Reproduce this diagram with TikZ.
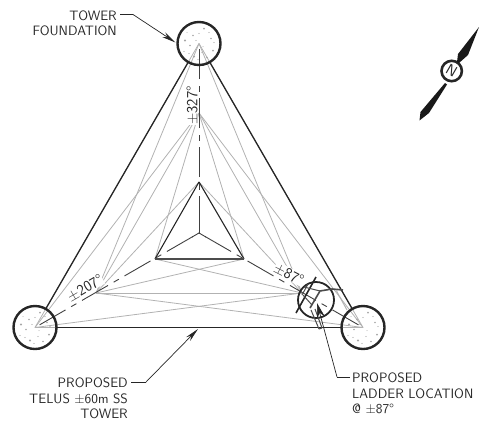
\documentclass[tikz,border=0pt]{standalone}
\usepackage{fontspec}
\usepackage{tikz}
\usetikzlibrary{calc,arrows.meta}

\tikzset{
    grayline/.style={draw=black!30, line width=0.8pt},
    darkline/.style={draw=black!85, line width=1.3pt},
    centerline/.style={draw=black!75, line width=0.9pt, dash pattern=on 30pt off 6.5pt on 6pt off 6.5pt, dash phase=42pt},
    foundation/.style={draw=black!85, line width=2.4pt},
    leader/.style={draw=black!85, line width=0.7pt},
    leaderarrow/.style={leader, -{Stealth[length=14pt,width=5.5pt]}},
    cadtext/.style={font=\fontsize{13.6}{15.5}\selectfont\sffamily, inner sep=0pt, text=black!85},
    masktext/.style={cadtext, font=\fontsize{15.5}{16}\selectfont\sffamily, fill=white, inner sep=0.5pt},
}

\begin{document}
\begin{tikzpicture}[x=1pt,y=-1pt]
    \useasboundingbox (0,0) rectangle (484,421);

    % outer foundations
    \coordinate (topfound) at (199,43.5);
    \coordinate (leftfound) at (35,327.5);
    \coordinate (rightfound) at (363,327.5);
    % middle bracing
    \coordinate (midtop) at (199,113);
    \coordinate (midleft) at (96,293);
    \coordinate (midright) at (302,293);
    % inner triangle
    \coordinate (intop) at (199,182);
    \coordinate (inleft) at (155,259);
    \coordinate (inright) at (244,259);
    \coordinate (centroid) at (199,233);

    % bracing lines
    \foreach \a/\b in {topfound/leftfound,topfound/rightfound,leftfound/rightfound,
        topfound/midleft,topfound/midright,leftfound/midtop,leftfound/midright,rightfound/midtop,rightfound/midleft,
        midtop/midleft,midtop/midright,midleft/midright,
        midtop/inleft,midtop/inright,midleft/intop,midleft/inright,midright/intop,midright/inleft}
        \draw[grayline] (\a) -- (\b);

    % masked labels
    \node[masktext,rotate=90] (labeltop) at (192,105.5) {±327°};
    \node[masktext,rotate=30] (labelleft) at (85,288) {±207°};
    \node[masktext,rotate=-27] (labelright) at (289,274) {±87°};

    % tower outline
    \draw[darkline,shorten >=21pt,shorten <=21pt] (topfound) -- (leftfound);
    \draw[darkline,shorten >=21pt,shorten <=21pt] (topfound) -- (rightfound);
    \draw[darkline,shorten >=21pt,shorten <=21pt] (leftfound) -- (rightfound);
    \draw[darkline,line width=1.1pt] (intop) -- (inleft);
    \draw[darkline,line width=1.1pt] (intop) -- (inright);
    \draw[darkline,line width=1.5pt,draw=black!70] (inleft) -- (inright);

    % centre lines
    \foreach \f in {topfound,leftfound,rightfound} {
        \draw[centerline] (centroid) -- (\f);
        \draw[draw=black!75,line width=0.9pt] (centroid) -- ($(centroid)!8pt!(\f)$);
    }

    % foundations with stipple
    \foreach \f in {topfound,leftfound,rightfound} {
        \draw[foundation] (\f) circle (21.5);
        \foreach \dx/\dy/\r in {-6/-8/0.9,5/-15/1.0,12/-5/0.8,-14/-3/1.1,14/7/1.0,-3/-3/0.7,-9/2/0.9,3/9/0.6,-5/13/1.2,8/14/0.8,-15/8/0.7,0/-10/0.6,10/-11/0.6,15/-1/0.6,-10/10/0.6,4/3/0.5,-1/16/0.7,-12/-11/0.5}
            \fill[black!35] ($(\f)+(\dx,\dy)$) circle (\r);
    }

    % ladder
    \draw[draw=black!85,line width=1.8pt] (316,300) circle (18);
    \draw[draw=black!85,line width=1.6pt] (296,313) -- (316,277);
    \draw[draw=black!70,line width=1.6pt] (310,308) -- (320,291) -- (332,289) -- (343,290);
    \draw[draw=black!70,line width=1pt] (304,287) -- (320,291);
    \draw[draw=black!70,line width=1pt] (303,295) -- (312,305);
    \draw[draw=black!70,line width=1pt] (308,284) -- (302,295);
    \draw[draw=black!70,line width=1pt] (311,310) -- (319,329);
    \draw[draw=black!70,line width=1pt] (315,309) -- (322,328);
    \draw[draw=black!70,line width=1pt] (319,329) -- (322,328);
    \draw[grayline,line width=1pt] (336,290) -- (347,310);

    % north arrow
    \draw[draw=black!85,line width=2.6pt] (451.7,71) circle (10.2);
    \node[cadtext,rotate=-30,font=\fontsize{15}{15}\selectfont\sffamily] (northlabel) at (451.7,71) {N};
    \fill[black!90] (445,83) -- (420.5,112) -- (419.5,120.5) -- (429,113) -- (447,84.5) -- cycle;
    \fill[black!90] (457,62) -- (458,54) -- (479,27) -- (468,55) -- (459,63) -- cycle;

    % callouts
    \node[cadtext,align=right,anchor=north east] (labeltower) at (117,10.5) {TOWER\\FOUNDATION};
    \coordinate (towerbend) at (133,14.5);
    \coordinate (towertip) at (175.5,42.5);
    \draw[leader] (labeltower.north east)++(3,4) -- (towerbend);
    \draw[leaderarrow] (towerbend) -- (towertip);

    \node[cadtext,align=right,anchor=north east] (labelproposed) at (128,378) {PROPOSED\\TELUS ±60m SS\\TOWER};
    \coordinate (proposedbend) at (146,382);
    \coordinate (proposedtip) at (198,329);
    \draw[leader] (labelproposed.north east)++(3,4) -- (proposedbend);
    \draw[leaderarrow] (proposedbend) -- (proposedtip);

    \node[cadtext,align=left,anchor=north west] (labelladder) at (352,373) {PROPOSED\\LADDER LOCATION\\@ ±87°};
    \coordinate (ladderbend) at (337,377);
    \coordinate (laddertip) at (317,303);
    \draw[leader] (labelladder.north west)++(-2,4) -- (ladderbend);
    \draw[leaderarrow,-{Stealth[length=15pt,width=8pt]}] (ladderbend) -- (laddertip);
\end{tikzpicture}
\end{document}
